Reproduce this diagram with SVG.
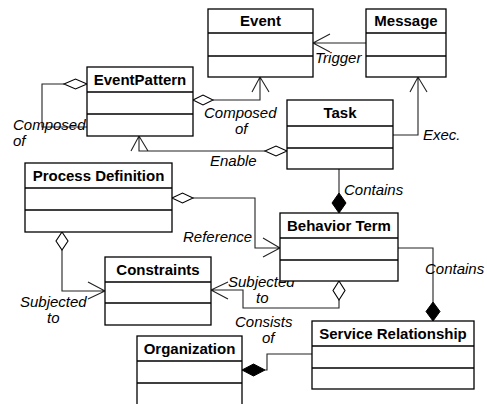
<svg xmlns="http://www.w3.org/2000/svg" width="487" height="404" viewBox="0 0 487 404">
<defs>
<style>
.box{fill:#fff;stroke:#000;stroke-width:1.3}
.div{stroke:#000;stroke-width:1.3}
.title{font-family:"Liberation Sans",Arial,sans-serif;font-weight:bold;font-size:15px;text-anchor:middle;fill:#000}
.lbl{font-family:"Liberation Sans",Arial,sans-serif;font-style:italic;font-size:15px;fill:#000}
.con{fill:none;stroke:#222;stroke-width:1.1}
.hd{fill:#fff;stroke:#000;stroke-width:1.1}
.fd{fill:#000;stroke:#000;stroke-width:1}
</style>
</defs>
<rect width="487" height="404" fill="#fff"/>
<g id="connectors">
  <path class="con" d="M366,43 H313 M330,34 L313,43 L330,52"/>
  <path class="con" d="M213,100 H260 V77 M252,92 L260,77 L269,92"/>
  <polygon class="hd" points="193,100 203,95 213,100 203,105"/>
  <path class="con" d="M393,135 H418 V77 M410,92 L418,77 L427,92"/>
  <path class="con" d="M265,151 H139 V136 M131,151 L139,136 L148,151"/>
  <polygon class="hd" points="287,151 276,146 265,151 276,156"/>
  <path class="con" d="M64,84 H42 V127 H87"/>
  <polygon class="hd" points="87,84 75.5,79 64,84 75.5,89"/>
  <path class="con" d="M339,169 V193"/>
  <polygon class="fd" points="339,213 346,203 339,193 332,203"/>
  <path class="con" d="M193,198 H255 V248 H280 M263,238 L280,248 L263,257"/>
  <polygon class="hd" points="172,198 182.5,193 193,198 182.5,203"/>
  <path class="con" d="M398,248 H433 V302"/>
  <polygon class="fd" points="433,321 440,311.5 433,302 426,311.5"/>
  <path class="con" d="M62,250 V291 H105 M88,282 L105,291 L88,299"/>
  <polygon class="hd" points="62,232 68,241 62,250 56,241"/>
  <path class="con" d="M339,300 V308 H243 V290 H211 M228,282 L211,290 L228,299"/>
  <polygon class="hd" points="339,281 345,290.5 339,300 333,290.5"/>
  <path class="con" d="M265,370 H267 V354 H312"/>
  <polygon class="fd" points="242,370 253.5,364 265,370 253.5,376"/>
</g>
<g id="labels">
  <text class="lbl" x="315" y="63">Trigger</text>
  <text class="lbl" x="204" y="118">Composed</text>
  <text class="lbl" x="235" y="134">of</text>
  <text class="lbl" x="423" y="140">Exec.</text>
  <text class="lbl" x="210" y="166">Enable</text>
  <text class="lbl" x="13" y="130">Composed</text>
  <text class="lbl" x="13" y="146">of</text>
  <text class="lbl" x="344" y="195">Contains</text>
  <text class="lbl" x="183" y="242">Reference</text>
  <text class="lbl" x="425" y="274">Contains</text>
  <text class="lbl" x="20" y="307">Subjected</text>
  <text class="lbl" x="47" y="323">to</text>
  <text class="lbl" x="228" y="287">Subjected</text>
  <text class="lbl" x="256" y="303">to</text>
  <text class="lbl" x="235" y="327">Consists</text>
  <text class="lbl" x="262" y="343">of</text>
</g>
<g id="Event">
  <rect class="box" x="208" y="9" width="105" height="68"/>
  <path class="div" d="M208,33 H313 M208,56 H313"/>
  <text class="title" x="260.5" y="26">Event</text>
</g>
<g id="Message">
  <rect class="box" x="366" y="9" width="80" height="68"/>
  <path class="div" d="M366,33 H446 M366,56 H446"/>
  <text class="title" x="406" y="26">Message</text>
</g>
<g id="EventPattern">
  <rect class="box" x="87" y="67" width="106" height="69"/>
  <path class="div" d="M87,92 H193 M87,114 H193"/>
  <text class="title" x="140" y="85">EventPattern</text>
</g>
<g id="Task">
  <rect class="box" x="287" y="100" width="106" height="69"/>
  <path class="div" d="M287,126 H393 M287,148 H393"/>
  <text class="title" x="340" y="118">Task</text>
</g>
<g id="ProcessDefinition">
  <rect class="box" x="25" y="163" width="147" height="69"/>
  <path class="div" d="M25,188 H172 M25,210 H172"/>
  <text class="title" x="98.5" y="181">Process Definition</text>
</g>
<g id="BehaviorTerm">
  <rect class="box" x="280" y="213" width="118" height="68"/>
  <path class="div" d="M280,238 H398 M280,260 H398"/>
  <text class="title" x="339" y="231">Behavior Term</text>
</g>
<g id="Constraints">
  <rect class="box" x="105" y="257" width="106" height="68"/>
  <path class="div" d="M105,282 H211 M105,303 H211"/>
  <text class="title" x="158" y="275">Constraints</text>
</g>
<g id="ServiceRelationship">
  <rect class="box" x="312" y="321" width="162" height="68"/>
  <path class="div" d="M312,346 H474 M312,368 H474"/>
  <text class="title" x="393" y="339">Service Relationship</text>
</g>
<g id="Organization">
  <rect class="box" x="137" y="336" width="105" height="70"/>
  <path class="div" d="M137,361 H242 M137,383 H242"/>
  <text class="title" x="189.5" y="354">Organization</text>
</g>
</svg>
